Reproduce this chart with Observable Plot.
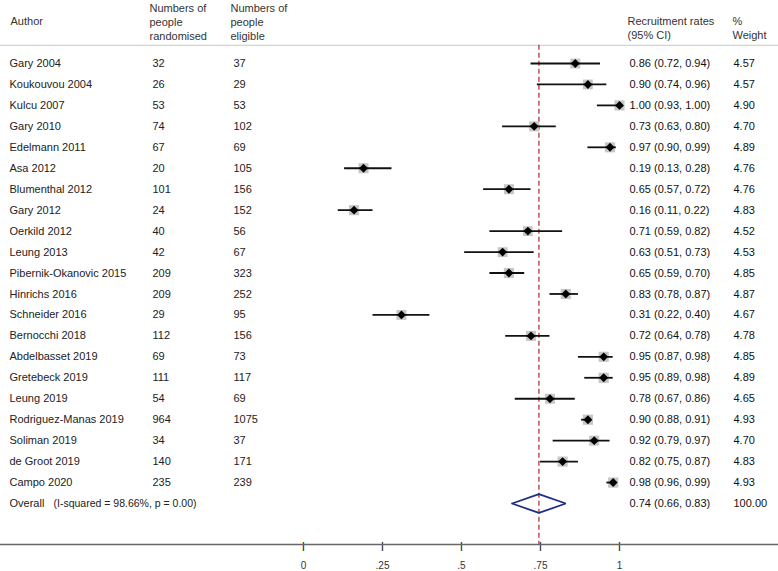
<!DOCTYPE html>
<html>
<head>
<meta charset="utf-8">
<script src="https://cdn.jsdelivr.net/npm/d3@7"></script>
<script src="https://cdn.jsdelivr.net/npm/@observablehq/plot@0.6"></script>
<style>
  html, body { margin: 0; padding: 0; background: #fff; }
  svg { display: block; }
</style>
</head>
<body>
<div id="chart"></div>
<script>
// ---- data ----
const authors = ["Gary 2004","Koukouvou 2004","Kulcu 2007","Gary 2010","Edelmann 2011","Asa 2012","Blumenthal 2012","Gary 2012","Oerkild 2012","Leung 2013","Pibernik-Okanovic 2015","Hinrichs 2016","Schneider 2016","Bernocchi 2018","Abdelbasset 2019","Gretebeck 2019","Leung 2019","Rodriguez-Manas 2019","Soliman 2019","de Groot 2019","Campo 2020"];
const randomised = [32,26,53,74,67,20,101,24,40,42,209,209,29,112,69,111,54,964,34,140,235];
const eligible = [37,29,53,102,69,105,156,152,56,67,323,252,95,156,73,117,69,1075,37,171,239];
const rates = [0.86,0.90,1.00,0.73,0.97,0.19,0.65,0.16,0.71,0.63,0.65,0.83,0.31,0.72,0.95,0.95,0.78,0.90,0.92,0.82,0.98];
const lower = [0.72,0.74,0.93,0.63,0.90,0.13,0.57,0.11,0.59,0.51,0.59,0.78,0.22,0.64,0.87,0.89,0.67,0.88,0.79,0.75,0.96];
const upper = [0.94,0.96,1.00,0.80,0.99,0.28,0.72,0.22,0.82,0.73,0.70,0.87,0.40,0.78,0.98,0.98,0.86,0.91,0.97,0.87,0.99];
const weights = [4.57,4.57,4.90,4.70,4.89,4.76,4.76,4.83,4.52,4.53,4.85,4.87,4.67,4.78,4.85,4.89,4.65,4.93,4.70,4.83,4.93];
const overallEst = 0.745, overallLo = 0.66, overallHi = 0.83;
const overallLabel = "0.74 (0.66, 0.83)";
const overallWeight = "100.00";
const heterogeneity = "(I-squared = 98.66%, p = 0.00)";
const xTicks = [0, 0.25, 0.5, 0.75, 1];

// ---- table built from the arrays ----
const f2 = d3.format(".2f");
const rows = authors.map((a, i) => ({
  row: i, author: a, rand: String(randomised[i]), elig: String(eligible[i]),
  est: rates[i], lo: lower[i], hi: upper[i], weight: weights[i],
  ci: `${f2(rates[i])} (${f2(lower[i])}, ${f2(upper[i])})`,
  w: f2(weights[i])
}));
const overallRow = authors.length;
const diamondHalf = 0.45; // in row units
const diamond = [
  {x: overallLo, y: overallRow},
  {x: overallEst, y: overallRow - diamondHalf},
  {x: overallHi, y: overallRow},
  {x: overallEst, y: overallRow + diamondHalf},
  {x: overallLo, y: overallRow}
];

// layout (row units)
const headerLineRow = -0.87;
const axisRow = 22.96;
const headerRow = -2.0;
const headerRightRow = -1.72;

const tickFmt = d => d === 0 ? "0" : d === 1 ? "1" : d3.format(".2~f")(d).replace(/^0/, "");
const txt = "#222";

const chart = Plot.plot({
  width: 778,
  height: 571,
  marginTop: 45,
  marginBottom: 27,
  marginLeft: 0,
  marginRight: 0,
  x: {domain: [0, 1], range: [303, 619]},
  y: {domain: [0, 21], range: [63, 503], axis: null},
  r: {type: "sqrt", domain: [0, 5], range: [0, 5.8]},
  style: {fontFamily: "'Liberation Sans', Arial, sans-serif", fontSize: "11px", color: txt, background: "#fff", overflow: "visible"},
  marks: [
    // header rule
    Plot.ruleY([headerLineRow], {stroke: "#c8c8c8", strokeWidth: 1}),
    // dashed overall line
    Plot.ruleX([overallEst], {y1: headerLineRow, y2: axisRow, stroke: "#b8323f", strokeWidth: 1.3, strokeDasharray: "5,3"}),
    // header texts
    Plot.text(["Author"], {y: headerRow, text: d => d, frameAnchor: "left", dx: 10, textAnchor: "start", fill: "#333"}),
    Plot.text(["Numbers of\npeople\nrandomised"], {y: headerRow, text: d => d, frameAnchor: "left", dx: 149, textAnchor: "start", lineHeight: 1.27, fill: "#333"}),
    Plot.text(["Numbers of\npeople\neligible"], {y: headerRow, text: d => d, frameAnchor: "left", dx: 230, textAnchor: "start", lineHeight: 1.27, fill: "#333"}),
    Plot.text(["Recruitment rates\n(95% CI)"], {y: headerRightRow, text: d => d, frameAnchor: "left", dx: 627, textAnchor: "start", lineHeight: 1.27, fill: "#333"}),
    Plot.text(["%\nWeight"], {y: headerRightRow, text: d => d, frameAnchor: "left", dx: 732, textAnchor: "start", lineHeight: 1.27, fill: "#333"}),
    // table columns
    Plot.text(rows, {y: "row", text: "author", frameAnchor: "left", dx: 9, textAnchor: "start", fill: txt}),
    Plot.text(rows, {y: "row", text: "rand", frameAnchor: "left", dx: 152, textAnchor: "start", fill: txt}),
    Plot.text(rows, {y: "row", text: "elig", frameAnchor: "left", dx: 233, textAnchor: "start", fill: txt}),
    Plot.text(rows, {y: "row", text: "ci", frameAnchor: "left", dx: 629, textAnchor: "start", fill: "#111"}),
    Plot.text(rows, {y: "row", text: "w", frameAnchor: "left", dx: 733, textAnchor: "start", fill: "#111"}),
    // overall row
    Plot.text(["Overall"], {y: overallRow, text: d => d, frameAnchor: "left", dx: 9, textAnchor: "start", fill: txt}),
    Plot.text([heterogeneity], {y: overallRow, text: d => d, frameAnchor: "left", dx: 53, textAnchor: "start", fontSize: 10.5, fill: txt}),
    Plot.text([overallLabel], {y: overallRow, text: d => d, frameAnchor: "left", dx: 629, textAnchor: "start", fill: "#111"}),
    Plot.text([overallWeight], {y: overallRow, text: d => d, frameAnchor: "left", dx: 733, textAnchor: "start", fill: "#111"}),
    // study markers
    Plot.dot(rows, {x: "est", y: "row", r: "weight", symbol: "square", fill: "#c6c6c6", stroke: null}),
    Plot.ruleY(rows, {y: "row", x1: "lo", x2: "hi", stroke: "#111", strokeWidth: 1.8}),
    Plot.dot(rows, {x: "est", y: "row", r: 4, symbol: "diamond2", fill: "#000", stroke: null}),
    // overall diamond
    Plot.line(diamond, {x: "x", y: "y", stroke: "#1f2d86", strokeWidth: 1.8, strokeLinejoin: "miter"}),
    // x axis: tick marks (glyphs hanging below the line), labels, then the full-width axis line
    Plot.text(xTicks, {x: d => d, text: () => "|", frameAnchor: "bottom", dy: 4.5, fontSize: 8.5, fontWeight: "bold", fill: "#222"}),
    Plot.axisX({ticks: xTicks, tickFormat: tickFmt, anchor: "bottom", tickSize: 0, tickPadding: 17, fontSize: 10, fill: "#333", label: null}),
    Plot.ruleY([axisRow], {stroke: "#666", strokeWidth: 1.6})
  ]
});
document.getElementById("chart").appendChild(chart);
</script>
</body>
</html>
